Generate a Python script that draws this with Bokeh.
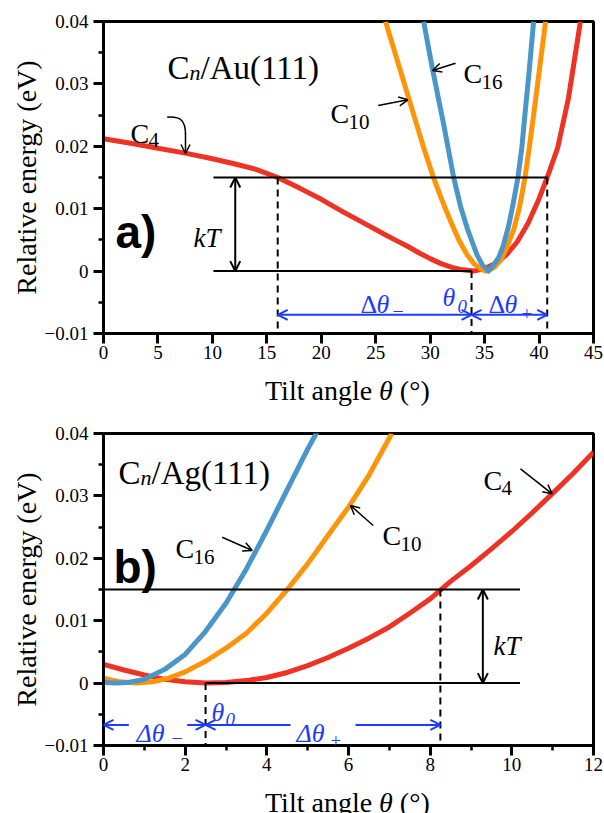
from bokeh.plotting import figure
from bokeh.layouts import column
from bokeh.models import Label, Arrow, OpenHead, Range1d, FixedTicker, CustomJSTickFormatter, Div
from bokeh.embed import file_html
from bokeh.resources import INLINE

# ---------------- data: panel a) Cn/Au(111) ----------------
au_c4_theta = [0, 2.5, 5, 7.5, 10, 12, 14, 16, 18, 20, 22, 24, 26, 27, 28, 29, 30, 31, 32, 33, 34,
               35, 36, 37, 38, 39, 40, 40.75, 41.7, 42.7, 43.8]
au_c4_e = [0.0212, 0.0205, 0.0197, 0.0189, 0.0180, 0.0172, 0.0163, 0.0150, 0.0133, 0.0115,
           0.0095, 0.0076, 0.0057, 0.0048, 0.0039, 0.0029, 0.0020, 0.0012, 0.0006, 0.0002, 0.0,
           0.0004, 0.0012, 0.0026, 0.0047, 0.0077, 0.0116, 0.0150, 0.0197, 0.0277, 0.0400]
au_c10_theta = [25.9, 27.2, 28.5, 29.4, 30.3, 31.1, 31.9, 32.6, 33.4, 34.0, 34.7, 35.1,
                35.6, 36.0, 36.5, 37.0, 37.7, 38.2, 38.7, 39.1, 39.5, 40.0, 40.6]
au_c10_e = [0.040, 0.0325, 0.0250, 0.0198, 0.0150, 0.0113, 0.0079, 0.0051, 0.0026, 0.0012,
            0.0003, 0.0, 0.0003, 0.0008, 0.0018, 0.0036, 0.0068, 0.0102, 0.0149, 0.0198,
            0.0250, 0.0318, 0.0400]
au_c16_theta = [29.4, 30.2, 31.25, 32.17, 32.8, 33.4, 33.9, 34.3, 34.8, 35.35, 35.8, 36.3,
                36.7, 37.2, 37.6, 38.05, 38.4, 38.7, 39.1, 39.5]
au_c16_e = [0.040, 0.0325, 0.0234, 0.0149, 0.0103, 0.0069, 0.0045, 0.0026, 0.0010, 0.0,
            0.0009, 0.0022, 0.0040, 0.0072, 0.0106, 0.0149, 0.0195, 0.0250, 0.0322, 0.0400]
au_kT = 0.015
au_theta0 = 33.8
au_theta_minus = 16.0
au_theta_plus = 40.75
au_ref_start = 10.1
au_kT_arrow = 12.1
au_delta_y = -0.007

# ---------------- data: panel b) Cn/Ag(111) ----------------
ag_c4_theta = [0, 0.5, 1.0, 1.5, 2.0, 2.5, 3.0, 3.5, 4.0, 4.5, 5.0, 5.5, 6.0, 6.5, 7.0, 7.5,
               8.0, 8.5, 9.0, 9.5, 10.0, 10.5, 11.0, 11.5, 12.0]
ag_c4_e = [0.0030, 0.0021, 0.0013, 0.0006, 0.0002, 0.0, 0.0001, 0.0004, 0.0009, 0.0017,
           0.0028, 0.0041, 0.0056, 0.0072, 0.0090, 0.0112, 0.0135, 0.0163, 0.0188, 0.0215,
           0.0243, 0.0273, 0.0304, 0.0336, 0.0370]
ag_c10_theta = [0, 0.4, 0.8, 1.2, 1.6, 2.0, 2.5, 3.0, 3.5, 4.0, 4.5, 5.0, 5.5, 6.0, 6.5, 7.06]
ag_c10_e = [0.0008, 0.0002, 0.0, 0.0002, 0.0008, 0.0018, 0.0035, 0.0056, 0.0080, 0.0112,
            0.0150, 0.0191, 0.0237, 0.0282, 0.0333, 0.0400]
ag_c16_theta = [0, 0.3, 0.6, 1.0, 1.5, 2.0, 2.5, 3.0, 3.5, 4.0, 4.5, 5.0, 5.25]
ag_c16_e = [0.0001, 0.0, 0.0001, 0.0006, 0.0022, 0.0046, 0.0083, 0.0128, 0.0183, 0.0245,
            0.0310, 0.0375, 0.0405]
ag_kT = 0.015
ag_theta0 = 2.5
ag_theta_minus = 0.0
ag_theta_plus = 8.25
ag_ref_end = 10.2
ag_kT_arrow = 9.29
ag_delta_y = -0.0067

# ticks
y_ticks = [-0.01, 0, 0.01, 0.02, 0.03, 0.04]
y_minor = [-0.005, 0.005, 0.015, 0.025, 0.035]
au_x_ticks = [0, 5, 10, 15, 20, 25, 30, 35, 40, 45]
ag_x_ticks = [0, 2, 4, 6, 8, 10, 12]
ag_x_minor = [1, 3, 5, 7, 9, 11]

SERIF = "Liberation Serif"
SANS = "Liberation Sans"
RED = "#EE3224"
ORANGE = "#FF9408"
BLUE = "#4A96C8"
ABLUE = "#1E3CFF"
DASH = "7 5"

W = 604
L, R = 103, 11
FW = W - L - R
FH = 312
BOT = 37
STRIP_A = 36
STRIP_B = 31


def make_fig(xmax, top, xticks, xminor):
    p = figure(width=W, height=top + FH + BOT, x_range=Range1d(0, xmax),
               y_range=Range1d(-0.01, 0.04), output_backend="svg", toolbar_location=None,
               min_border_left=L, min_border_right=R, min_border_top=top,
               min_border_bottom=BOT)
    p.grid.visible = False
    p.background_fill_color = "white"
    p.border_fill_color = "white"
    p.outline_line_color = "black"
    p.outline_line_width = 3
    p.outline_line_alpha = 1
    p.xaxis.ticker = FixedTicker(ticks=xticks, minor_ticks=xminor)
    p.yaxis.ticker = FixedTicker(ticks=y_ticks, minor_ticks=y_minor)
    p.yaxis.formatter = CustomJSTickFormatter(
        code="if (Math.abs(tick) < 1e-9) return '0'; return (tick < 0 ? '\u2212' : '') + Math.abs(tick).toFixed(2);")
    p.axis.axis_line_width = 3
    p.axis.major_tick_line_width = 3
    p.axis.minor_tick_line_width = 2.5
    p.axis.major_tick_out = 10
    p.axis.major_tick_in = 0
    p.axis.minor_tick_out = 5
    p.axis.minor_tick_in = 0
    p.axis.major_label_text_font = SERIF
    p.axis.major_label_text_font_size = "19px"
    p.axis.major_label_text_color = "black"
    p.axis.major_label_text_font_style = "normal"
    p.xaxis.major_label_standoff = 2
    p.yaxis.major_label_standoff = 5
    p.yaxis.axis_label = "Relative energy (eV)"
    p.yaxis.axis_label_text_font = SERIF
    p.yaxis.axis_label_text_font_size = "28px"
    p.yaxis.axis_label_text_font_style = "normal"
    p.yaxis.axis_label_text_color = "black"
    p.yaxis.axis_label_standoff = 0
    return p


def conv_factory(xmax, frame_top):
    def c(px, py):
        return (px - L) / FW * xmax, 0.04 - (py - frame_top) / FH * 0.05
    return c


def text(p, c, px, py, s, size, style="normal", color="black", font=SERIF):
    x, y = c(px, py)
    p.add_layout(Label(x=x, y=y, text=s, text_font=font, text_font_size=f"{size}px",
                       text_font_style=style, text_color=color, text_baseline="alphabetic",
                       text_align="left"))


def pointer(p, c, tail, head, color="black", lw=1.5, size=9):
    x0, y0 = c(*tail)
    x1, y1 = c(*head)
    p.add_layout(Arrow(x_start=x0, y_start=y0, x_end=x1, y_end=y1, line_color=color,
                       line_width=lw, start=None,
                       end=OpenHead(size=size, line_width=lw, line_color=color)))


def harrow(p, xa, xb, y, color, both=True, lw=2, size=10):
    p.add_layout(Arrow(x_start=xa, y_start=y, x_end=xb, y_end=y, line_color=color, line_width=lw,
                       start=OpenHead(size=size, line_width=lw, line_color=color) if both else None,
                       end=OpenHead(size=size, line_width=lw, line_color=color)))


def vkT(p, x, kT):
    p.add_layout(Arrow(x_start=x, y_start=0, x_end=x, y_end=kT, line_color="black", line_width=2,
                       start=OpenHead(size=10, line_width=2), end=OpenHead(size=10, line_width=2)))


def xlabel_div(h, pad_top):
    return Div(text="Tilt angle <i>\u03b8</i> (\u00b0)", width=W, height=h,
               styles={"font-family": "'Liberation Serif', serif", "font-size": "28px",
                       "line-height": "28px", "padding-left": "265px",
                       "padding-top": f"{pad_top}px", "color": "black",
                       "white-space": "nowrap", "overflow": "hidden",
                       "box-sizing": "border-box", "margin": "0px"})


# ================= panel a =================
TOP_A = 21
p1 = make_fig(45, TOP_A, au_x_ticks, [])
ca = conv_factory(45, TOP_A)

p1.line(au_c4_theta, au_c4_e, line_color=RED, line_width=5, line_join="round")
p1.line(au_c10_theta, au_c10_e, line_color=ORANGE, line_width=5, line_join="round")
p1.line(au_c16_theta, au_c16_e, line_color=BLUE, line_width=5, line_join="round")

p1.segment(x0=[au_ref_start, au_ref_start], y0=[au_kT, 0], x1=[au_theta_plus, au_theta0],
           y1=[au_kT, 0], line_color="black", line_width=2)
p1.segment(x0=[au_theta_minus, au_theta0, au_theta_plus], y0=[au_kT, 0, au_kT],
           x1=[au_theta_minus, au_theta0, au_theta_plus], y1=[-0.01, -0.01, -0.01],
           line_color="black", line_width=2, line_dash=DASH)
vkT(p1, au_kT_arrow, au_kT)
harrow(p1, au_theta_minus, au_theta0, au_delta_y, ABLUE)
harrow(p1, au_theta0, au_theta_plus, au_delta_y, ABLUE)

text(p1, ca, 167, 67, "C", 33)
text(p1, ca, 189, 72, "n", 22, "italic")
text(p1, ca, 200, 67, "/Au(111)", 33)
text(p1, ca, 115, 231, "a)", 46, "bold", font=SANS)
text(p1, ca, 193, 237, "kT", 27, "italic")

text(p1, ca, 130, 133, "C", 28)
text(p1, ca, 148, 139, "4", 21)
text(p1, ca, 330, 113, "C", 28)
text(p1, ca, 348, 121, "10", 21)
text(p1, ca, 463, 73, "C", 28)
text(p1, ca, 481, 81, "16", 21)

pointer(p1, ca, (377.7, 105), (407.3, 99.3))
pointer(p1, ca, (455, 62.7), (432, 70))
bx = [ca(166.7, 116.7), ca(181, 115.5), ca(185, 121), ca(185, 134)]
p1.bezier(x0=[bx[0][0]], y0=[bx[0][1]], cx0=[bx[1][0]], cy0=[bx[1][1]],
          cx1=[bx[2][0]], cy1=[bx[2][1]], x1=[bx[3][0]], y1=[bx[3][1]],
          line_color="black", line_width=1.5)
pointer(p1, ca, (185, 133), (185, 153))

text(p1, ca, 360, 304, "\u0394", 26, color=ABLUE)
text(p1, ca, 376, 304, "\u03b8", 26, "italic", color=ABLUE)
text(p1, ca, 392, 310, "\u2212", 20, color=ABLUE)
text(p1, ca, 442, 297, "\u03b8", 26, "italic", color=ABLUE)
text(p1, ca, 457, 306, "0", 19, "italic", color=ABLUE)
text(p1, ca, 488, 304, "\u0394", 26, color=ABLUE)
text(p1, ca, 504, 304, "\u03b8", 26, "italic", color=ABLUE)
text(p1, ca, 521, 313, "+", 19, color=ABLUE)

d1 = xlabel_div(STRIP_A, 7)

# ================= panel b =================
TOP_B = 27
Y0_B = TOP_A + FH + BOT + STRIP_A
p2 = make_fig(12, TOP_B, ag_x_ticks, ag_x_minor)
cb = conv_factory(12, Y0_B + TOP_B)

p2.line(ag_c4_theta, ag_c4_e, line_color=RED, line_width=5, line_join="round")
p2.line(ag_c10_theta, ag_c10_e, line_color=ORANGE, line_width=5, line_join="round")
p2.line(ag_c16_theta, ag_c16_e, line_color=BLUE, line_width=5, line_join="round")

p2.segment(x0=[ag_theta_minus, ag_theta0], y0=[ag_kT, 0], x1=[ag_ref_end, ag_ref_end],
           y1=[ag_kT, 0], line_color="black", line_width=2)
p2.segment(x0=[ag_theta0, ag_theta_plus], y0=[0, ag_kT], x1=[ag_theta0, ag_theta_plus],
           y1=[-0.01, -0.01], line_color="black", line_width=2, line_dash=DASH)
vkT(p2, ag_kT_arrow, ag_kT)

harrow(p2, cb(128.3, 0)[0], ag_theta_minus, ag_delta_y, ABLUE, both=False)
harrow(p2, cb(186.7, 0)[0], ag_theta0, ag_delta_y, ABLUE, both=False)
harrow(p2, cb(290, 0)[0], ag_theta0, ag_delta_y, ABLUE, both=False)
harrow(p2, cb(355, 0)[0], ag_theta_plus, ag_delta_y, ABLUE, both=False)

text(p2, cb, 118, 472, "C", 33)
text(p2, cb, 140, 477, "n", 22, "italic")
text(p2, cb, 151, 472, "/Ag(111)", 33)
text(p2, cb, 113, 566, "b)", 46, "bold", font=SANS)
text(p2, cb, 493, 645, "kT", 27, "italic")

text(p2, cb, 175, 548, "C", 28)
text(p2, cb, 193, 556, "16", 21)
text(p2, cb, 382, 535, "C", 28)
text(p2, cb, 400, 543, "10", 21)
text(p2, cb, 483, 480, "C", 28)
text(p2, cb, 501, 487, "4", 21)
pointer(p2, cb, (221.7, 536.7), (251.7, 550))
pointer(p2, cb, (372.7, 525), (350, 505))
pointer(p2, cb, (520, 468.3), (551.7, 493.3))

text(p2, cb, 136, 733, "\u0394\u03b8", 26, "italic", color=ABLUE)
text(p2, cb, 171, 737, "\u2212", 20, color=ABLUE)
text(p2, cb, 211, 712, "\u03b8", 26, "italic", color=ABLUE)
text(p2, cb, 225, 719, "0", 19, "italic", color=ABLUE)
text(p2, cb, 296, 733, "\u0394\u03b8", 26, "italic", color=ABLUE)
text(p2, cb, 330, 740, "+", 19, color=ABLUE)

d2 = xlabel_div(STRIP_B, 7)

layout = column(p1, d1, p2, d2)
open("out.html", "w").write(file_html(layout, INLINE))
